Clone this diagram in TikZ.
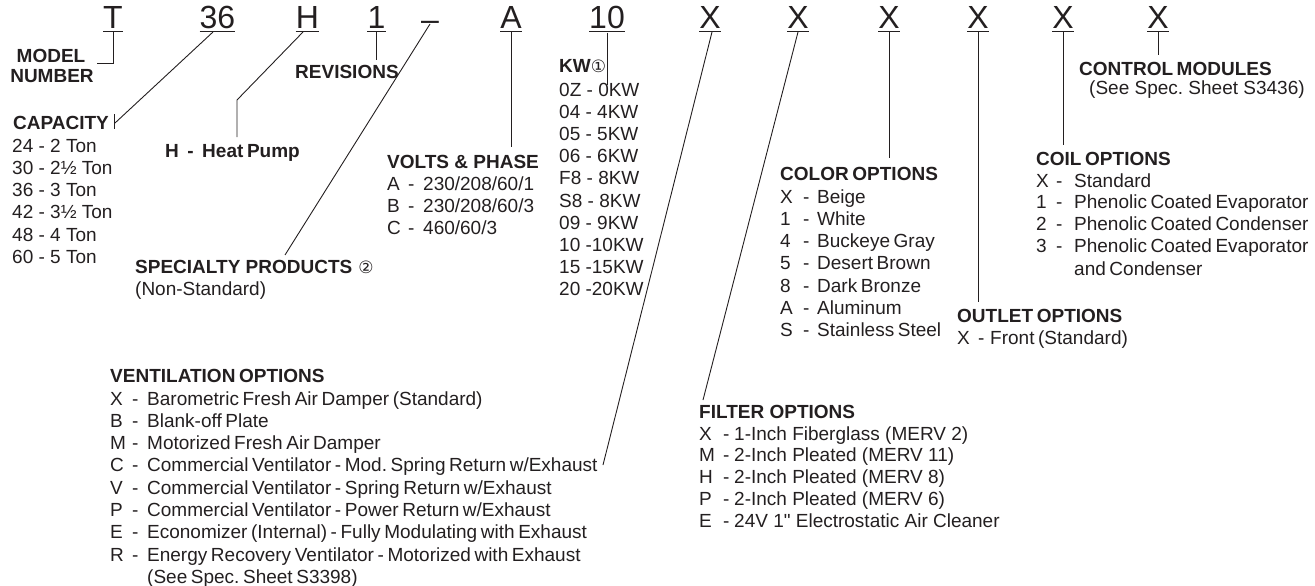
\documentclass[tikz,border=0pt]{standalone}
\usepackage{fontspec}
\setmainfont{Liberation Sans}
\newfontfamily\dejavu{DejaVu Sans}
\newfontface\nomap{Liberation Sans}[Ligatures=TeXOff]
\definecolor{ink}{RGB}{35,31,32}
\frenchspacing
\newcommand\tsp{\spaceskip=3.6pt plus 1pt\relax}
\newcommand\itm[4]{\makebox[#1][l]{#3}\makebox[#2][l]{-}#4}
\newcommand\circnum[1]{{\dejavu\mdseries\fontsize{17}{18}\selectfont #1}}
\tikzset{
  txt/.style={anchor=base west, inner sep=0pt, text=ink, font=\fontsize{19}{22}\selectfont},
  hd/.style={txt, font=\fontsize{19}{22}\selectfont\bfseries},
  code/.style={anchor=base, inner sep=0pt, text=ink, font=\fontsize{32}{36}\selectfont},
  uline/.style={line width=1.3pt, draw=ink},
  conn/.style={line width=0.9pt, draw=ink},
}
\begin{document}
\begin{tikzpicture}[x=1pt,y=-1pt]
\useasboundingbox (0,0) rectangle (1315,586);

% ---- code characters on top
\node[code] (nT)   at (113,29)   {T};
\node[code] (n36)  at (217.5,29) {36};
\node[code] (nH)   at (307.5,29) {H};
\node[code] (n1)   at (376.5,29) {1};
\node[code] (ndash) at (430,31)  {–};
\node[code] (nA)   at (511,29)   {A};
\node[code] (n10)  at (607,29)   {10};
\node[code] (nX1)  at (710,29)   {X};
\node[code] (nX2)  at (798,29)   {X};
\node[code] (nX3)  at (889,29)   {X};
\node[code] (nX4)  at (978,29)   {X};
\node[code] (nX5)  at (1063,29)  {X};
\node[code] (nX6)  at (1158,29)  {X};
\foreach \n in {nT,n36,nH,n1,nA,n10,nX1,nX2,nX3,nX4,nX5,nX6}
  \draw[uline] ([yshift=-2.3pt]\n.south west) -- ([yshift=-2.3pt]\n.south east);

% ---- model number
\node[hd,anchor=base] (model) at (51,63) {MODEL};
\node[hd,anchor=base] (number) at (52,83) {NUMBER};
\coordinate (mb) at (113,63);
\coordinate (me) at (97,63);
\draw[conn] ([yshift=-3pt]nT.south) -- (mb) -- (me);

% ---- capacity
\node[hd] (cap) at (13,129) {CAPACITY};
\coordinate (capj) at (115,123);
\coordinate (capt) at (114,114);
\coordinate (capb) at (114,129);
\coordinate (s36) at (213,32);
\draw[conn] (s36) -- (capj);
\draw[conn] (capt) -- (capb);
\foreach \t [count=\i from 0] in {24 - 2 Ton, 30 - 2½ Ton, 36 - 3 Ton, 42 - 3½ Ton, 48 - 4 Ton, 60 - 5 Ton}
  \node[txt] (capl\i) at (12, 152+22.3*\i) {\t};

% ---- heat pump
\node[hd] (heat) at (165,157) {\tsp H\hspace{8.5pt}-\hspace{8.5pt}Heat Pump};
\coordinate (sH) at (303,32);
\coordinate (hb) at (237,100);
\coordinate (he) at (237,137);
\draw[conn] (sH) -- (hb) -- (he);

% ---- revisions
\node[hd] (rev) at (295,78) {REVISIONS};
\coordinate (re) at (376.5,60);
\draw[conn] ([yshift=-3pt]n1.south) -- (re);

% ---- specialty
\coordinate (sd) at (430,24);
\coordinate (spe) at (285,255);
\draw[conn] (sd) -- (spe);
\node[hd] (spec) at (135,273) {SPECIALTY PRODUCTS\hspace{6pt}\circnum{②}};
\node[txt] (nonstd) at (135,295) {(Non-Standard)};

% ---- volts & phase
\coordinate (ae) at (511,147);
\draw[conn] ([yshift=-3pt]nA.south) -- (ae);
\node[hd] (volts) at (387,168) {VOLTS \& PHASE};
\foreach \k/\v [count=\i from 0] in {A/{230/208/60/1}, B/{230/208/60/3}, C/{460/60/3}}
  \node[txt] (vl\i) at (387, 190+22.3*\i) {\itm{21pt}{15pt}{\k}{\v}};

% ---- KW
\coordinate (ke) at (607,85);
\draw[conn] ([yshift=-3pt]n10.south) -- (ke);
\node[hd] (kw) at (559,73) {KW\circnum{①}};
\foreach \t [count=\i from 0] in {0Z - 0KW, 04 - 4KW, 05 - 5KW, 06 - 6KW, F8 - 8KW, S8 - 8KW, 09 - 9KW, 10 -10KW, 15 -15KW, 20 -20KW}
  \node[txt] (kwl\i) at (559, 96+22.2*\i) {\t};

% ---- ventilation
\coordinate (sv) at (712,32);
\coordinate (ve) at (603,465);
\draw[conn] (sv) -- (ve);
\node[hd] (vent) at (110,382) {\tsp VENTILATION OPTIONS};
\foreach \k/\v [count=\i from 0] in {
  X/{Barometric Fresh Air Damper (Standard)},
  B/{Blank-off Plate},
  M/{Motorized Fresh Air Damper},
  C/{Commercial Ventilator - Mod. Spring Return w/Exhaust},
  V/{Commercial Ventilator - Spring Return w/Exhaust},
  P/{Commercial Ventilator - Power Return w/Exhaust},
  E/{Economizer (Internal) - Fully Modulating with Exhaust},
  R/{Energy Recovery Ventilator - Motorized with Exhaust}}
  \node[txt] (vtl\i) at (110, 405+22.3*\i) {\tsp\itm{22pt}{15pt}{\k}{\v}};
\node[txt] (vtsee) at (147,583) {\tsp(See Spec. Sheet S3398)};

% ---- filter
\coordinate (sf) at (798,32);
\coordinate (fe) at (703,400);
\draw[conn] (sf) -- (fe);
\node[hd] (filt) at (699,418) {FILTER OPTIONS};
\foreach \k/\v [count=\i from 0] in {
  X/{1-Inch Fiberglass (MERV 2)},
  M/{2-Inch Pleated (MERV 11)},
  H/{2-Inch Pleated (MERV 8)},
  P/{2-Inch Pleated (MERV 6)},
  E/{24V 1{\nomap"} Electrostatic Air Cleaner}}
  \node[txt] (fl\i) at (699, 440+21.8*\i) {\itm{24pt}{11pt}{\k}{\v}};

% ---- color
\coordinate (ce) at (889,158);
\draw[conn] ([yshift=-3pt]nX3.south) -- (ce);
\node[hd] (color) at (780,180) {\tsp COLOR OPTIONS};
\foreach \k/\v [count=\i from 0] in {X/Beige, 1/White, 4/{Buckeye Gray}, 5/{Desert Brown}, 8/{Dark Bronze}, A/Aluminum, S/{Stainless Steel}}
  \node[txt] (cl\i) at (780, 203+22.3*\i) {\tsp\itm{23pt}{14pt}{\k}{\v}};

% ---- outlet
\coordinate (oe) at (978,302);
\draw[conn] ([yshift=-3pt]nX4.south) -- (oe);
\node[hd] (outlet) at (957,322) {\tsp OUTLET OPTIONS};
\node[txt] (ol0) at (957,344) {\tsp\makebox[21pt][l]{X}\makebox[12pt][l]{-}Front (Standard)};

% ---- coil
\coordinate (coe) at (1063,145);
\draw[conn] ([yshift=-3pt]nX5.south) -- (coe);
\node[hd] (coil) at (1036,165) {\tsp COIL OPTIONS};
\foreach \k/\v [count=\i from 0] in {X/Standard, 1/{Phenolic Coated Evaporator}, 2/{Phenolic Coated Condenser}, 3/{Phenolic Coated Evaporator}}
  \node[txt] (col\i) at (1036, 187+21.8*\i) {\tsp\itm{20pt}{18pt}{\k}{\v}};
\node[txt] (col4) at (1074,275) {\tsp and Condenser};

% ---- control modules
\coordinate (cte) at (1158,55);
\draw[conn] ([yshift=-3pt]nX6.south) -- (cte);
\node[hd] (ctrl) at (1079,75) {\tsp CONTROL MODULES};
\node[txt] (ctsee) at (1089,95) {(See Spec. Sheet S3436)};
\end{tikzpicture}
\end{document}
